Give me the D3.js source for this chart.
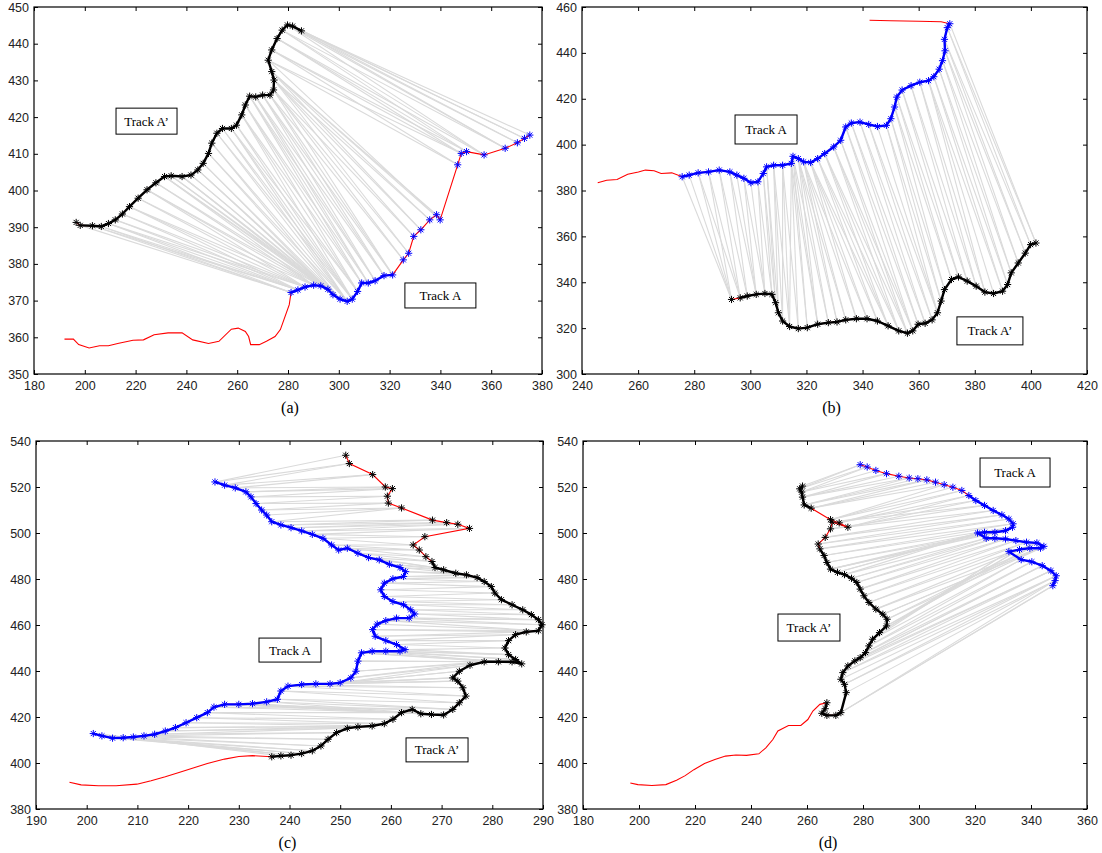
<!DOCTYPE html>
<html>
<head>
<meta charset="UTF-8">
<title>Track A / Track A' matching</title>
<style>
  body { margin: 0; background: #fff; }
  .tick text { font-family: "Liberation Sans", Arial, sans-serif; font-size: 12.5px; fill: #222; }
  .tick line { stroke: #000; }
  .boxlabel { font-family: "Liberation Serif", "Times New Roman", serif; font-size: 13px; fill: #000; }
  .caption { font-family: "Liberation Serif", "Times New Roman", serif; font-size: 16px; fill: #000; }
</style>
</head>
<body>
<svg></svg>
<script src="https://d3js.org/d3.v7.min.js"></script>
<script>

let width = 1102, height = 853;
let svg = d3.select("svg").attr("width", width).attr("height", height);

// ---- panel (a) ----
const aXTicks = [180, 200, 220, 240, 260, 280, 300, 320, 340, 360, 380];
const aYTicks = [350, 360, 370, 380, 390, 400, 410, 420, 430, 440, 450];
const aRed = [[192,359.5],[195.5,359.5],[197.6,358],[201.7,357.1],[205.8,357.7],[209.3,357.7],[213.4,358.4],[219,359.2],[223.1,359.3],[227.3,360.7],[232.8,361.2],[238.3,361.2],[242.5,359.3],[248.7,358.3],[252.8,358.9],[257.7,362.2],[260.4,362.5],[263.2,361.6],[264.5,360.2],[265.3,358],[268.7,358],[271.5,358.9],[274.9,360.2],[277,362.1],[278.4,364.8],[280.5,368.9]];
const aTrack = [[281.2,372.2],[283.9,372.9],[286.7,373.7],[290.1,374.2],[292.9,374],[295.7,373.1],[297.7,371.6],[300.5,370.4],[303.3,369.8],[305.3,370.4],[307.4,372.5],[309,374.8],[311.6,374.8],[314.3,375.4],[317.8,376.8],[321.2,377],[325.4,381.1],[327.5,382.9],[329.5,387.5],[332.3,389.3],[335.8,392],[338.5,393.4],[339.9,392],[346.8,407],[348.2,410.1],[350.3,410.6],[357.2,409.7],[365.5,411.5],[370.3,413],[373.1,414.2],[375.2,415.1]];
const aTrack2 = [[196.6,391.3],[198.2,390.5],[203,390.4],[206.5,390.2],[209.3,391],[212,392],[214.8,393.6],[217.6,395.6],[221,397.9],[224.5,400.2],[228,402.1],[231.4,403.8],[234,404],[238.3,403.8],[241.8,404.2],[244.5,405.6],[246.6,407.4],[248.7,410.1],[250,412.9],[252,415.6],[254.2,416.9],[257.7,416.9],[259.7,417.8],[261.8,420.6],[263.2,423.3],[264.9,425.7],[267.3,425.5],[270,426],[272.9,426],[274.3,427.4],[274.5,430.1],[273.6,432.4],[272.2,435.5],[273.6,438.3],[275.7,441.4],[277.7,443.7],[279.8,445.1],[281.8,444.8],[285.3,443.5]];
const aLinks = [[],[0],[0,1],[0,1],[0,1,2],[1,2],[1,2],[1,2,3],[2,3],[2,3,4],[3,4],[3,4,5],[4,5],[4,5,6],[5,6],[5,6,7],[6,7],[7,8],[7,8],[8,9],[8,9],[8,9,10],[9,10],[9,10,11],[10,11,12],[11,12,13],[12,13,14],[13,14,15],[14,15,16],[15,16,17,18],[17,18,19,20],[19,20,21,22],[22,23,24],[23,24,25],[24,25,26],[25,26,27],[26,27,28],[27,28,29],[29,30]];

// ---- panel (b) ----
const bXTicks = [240, 260, 280, 300, 320, 340, 360, 380, 400, 420];
const bYTicks = [300, 320, 340, 360, 380, 400, 420, 440, 460];
const bRed = [[245.6,383.4],[248.8,384.5],[252.5,384.8],[256.3,387.1],[260.1,388.1],[262.6,388.9],[265.7,388.6],[268.2,387.4],[272,387.7]];
const bRedTail = [[368,453.6],[360,453.8],[350,454],[342.5,454.2]];
const bTrack = [[275.7,386],[278.2,386.7],[281.4,387.7],[285.1,388.1],[288.9,388.9],[292.7,388.1],[295.2,386.7],[297.7,385.3],[300.2,383.4],[302.7,383.8],[304.6,387.4],[305.8,390.3],[308.3,391],[311.5,391],[314.6,391.8],[315.2,394.9],[317.1,393.9],[319,392.5],[321.5,392.2],[324,393.9],[326.5,396.1],[329.7,399],[332.2,401.9],[334,407.7],[336,409.4],[339.1,409.8],[342.2,408.8],[345.3,407.9],[348.5,408.4],[350.1,411.3],[351.4,416.4],[352.2,420.7],[354.1,423.8],[357.3,425.7],[360.4,427.2],[363.5,427.9],[365.4,429.6],[367.3,432.9],[368.5,436.6],[369.4,440.9],[369.2,445.9],[370.2,451],[371.1,452.7]];
const bTrack2 = [[293.3,332.5],[296.4,333.2],[298.9,334],[302.1,334.7],[305.2,335.1],[307.7,334.7],[309,331.1],[310,326.7],[311.5,323.1],[314,320.7],[317.1,319.8],[320.3,320.2],[324,321.7],[327.8,322.4],[330.9,322.7],[334,323.6],[337.8,324.1],[341.6,324.1],[345.3,323.1],[349.1,321],[352.9,318.8],[356,317.8],[357.9,318.8],[359.8,321.7],[362.3,322.1],[364.8,323.6],[366.7,326.7],[368,331.8],[369.2,336.8],[371.7,341.2],[374.2,342.3],[377.3,340.5],[380.5,338.3],[383.6,335.7],[386.7,335.1],[389.9,336.1],[391.7,339],[393,344.1],[395.5,348.4],[398,352.7],[399.9,356.4],[401.8,357.1]];
const bLinks = [[0,1,2,3],[2,3,4],[4,5],[5,6,7],[7,8,9],[9,10],[10,11],[11,12],[12,13],[12,13,14],[13,14],[14,15],[14,15,16],[15,16],[16,17],[16,17],[17,18],[17,18],[18,19],[18,19,20],[19,20,21],[20,21,22],[21,22,23],[23,24],[24,25],[25,26],[26,27,28],[28,29],[29,30],[30,31],[31,32],[32,33],[33,34],[34,35],[35],[35,36],[36,37],[37,38],[38,39],[39,40],[40,41],[41,42]];

// ---- panel (c) ----
const cXTicks = [190, 200, 210, 220, 230, 240, 250, 260, 270, 280, 290];
const cYTicks = [380, 400, 420, 440, 460, 480, 500, 520, 540];
const cRed = [[196.6,391.6],[198.9,390.5],[202.3,390.1],[205.8,390.1],[209.9,390.8],[212.7,392.3],[215.5,394],[218.2,395.9],[221,397.8],[223.8,399.8],[227.2,401.7],[230,402.8],[232.7,403.2]];
const cTrack = [[225.3,522.2],[227.2,520.8],[229.3,519.6],[231.4,517.9],[232.4,515.7],[233.4,512.8],[234.5,510],[235.5,507.8],[236.5,504.9],[238.3,503.5],[240.3,502.3],[242.4,500.9],[244.5,499.4],[246.6,497.7],[248.3,494.8],[249.7,492.6],[251.4,493.4],[253.5,491.2],[255.6,489.3],[257.7,488.3],[259.7,486.4],[261.8,485],[262.9,483.2],[262.5,481.1],[260.4,480.1],[258.7,478.2],[258,475.3],[258.7,472.4],[260.4,470.2],[262.5,468.8],[263.9,466.6],[264.7,464.8],[263.6,463],[261.1,463],[259,461.9],[257.3,460.4],[256.4,458],[256.9,455.1],[259,453.2],[261.1,451.5],[262.8,449.3],[261.8,448.6],[259,448.6],[256.3,448.6],[254.2,447.9],[253.5,444.3],[253.1,439.9],[252.1,437],[250,434.9],[248,434.4],[245.2,434.4],[242.4,434.1],[239.7,433.4],[238.3,431.3],[237.6,427.7],[235.5,426.6],[232.7,425.8],[230,425.5],[227.2,425.5],[225.1,424.3],[223.8,421.9],[221.7,419.7],[219.6,417.5],[217.5,415.4],[215.5,413.9],[213.4,412.5],[211.3,411.8],[209.2,411.3],[207.2,411],[205.1,410.8],[203,411.8],[201.3,412.8]];
const cTrack2 = [[251.1,533.8],[251.8,530.2],[256.4,525.4],[258.9,520],[260.3,519.3],[259.3,516],[259.5,513],[262.1,510.9],[268.2,505.6],[271,504.5],[273.2,503.8],[275.5,502],[266.7,498.4],[264.4,494.8],[265.6,492.6],[266.9,489.7],[268.1,487.6],[268.7,485],[270.4,484],[272.8,482.5],[274.9,481.8],[277,480.6],[278.4,478.9],[279.8,476.7],[280.5,473.9],[281.8,471],[283.9,468.8],[286,466.6],[287.7,464.5],[289.1,462.3],[289.8,460.1],[289.1,457.5],[286.7,457],[284.6,455.8],[283.2,453.2],[282.5,450],[283.2,447.1],[284.6,445],[285.8,443.1],[283.9,444],[281.2,444],[278.4,444],[275.6,442.5],[273.5,439.9],[272.2,437],[273.2,435.6],[274.2,432.7],[274.8,429.1],[273.5,426.2],[272.2,423.3],[270.4,420.9],[268,421.1],[265.9,421.4],[264.2,423.3],[262.1,421.9],[260.4,419],[258.7,417.1],[256.3,416.1],[253.5,415.7],[251.4,415.1],[249.3,413.2],[247.6,410.3],[246.2,407.4],[244.5,405.3],[242.4,404.1],[240.3,403.4],[238.3,403.1],[236.5,402.7]];
const cLinks = [[0],[0,1],[1,2],[2,3],[3,4],[4,5],[5,6],[6,7,8],[8,9],[9,10],[10,11],[11,12],[12,13],[13,14],[14,15,16],[16,17],[17,18],[18,19,20],[20,21],[21,22],[22,23],[23,24],[24,25],[25,26],[26,27],[27,28],[28,29],[29,30],[30,31],[31,32,33],[33,34],[34,35,36],[36,37],[37,38],[38,39],[39,40],[40,41,42],[42,43],[43,44],[44,45],[45,46],[46,47],[47,48],[48,49],[49,50],[50,51],[51,52],[52,53],[53,54],[54,55],[55,56],[56,57],[57,58],[58,59],[59,60],[60,61],[61,62],[62,63],[63,64],[64,65],[65,66],[66,67],[67,68],[68,69],[69,70],[70,71],[71],[]];

// ---- panel (d) ----
const dXTicks = [180, 200, 220, 240, 260, 280, 300, 320, 340, 360];
const dYTicks = [380, 400, 420, 440, 460, 480, 500, 520, 540];
const dRed = [[196.9,391.3],[199.6,390.6],[204.6,390.2],[209.6,390.6],[213.4,392.5],[216.5,394.5],[219.6,397.1],[223.4,399.8],[227.1,401.5],[230.9,403],[234.6,403.5],[238.4,403.3],[242.8,404],[245.3,406.6],[247.8,410.2],[249.6,413.9],[253.4,416.3],[257.8,416.3],[260.3,418.9],[262.1,422.6],[264.6,425.5]];
const dTrack = [[279,529.7],[281.5,528.7],[284.6,527.2],[288.4,525.8],[292.8,524.7],[296.5,523.9],[299.6,523.6],[302.8,523.1],[305.9,522.1],[309,521],[312.1,519.9],[315.3,518.5],[317.8,516.3],[320.3,514.1],[323.4,512],[326.5,509.8],[329.6,507.9],[332.1,506.1],[333.6,504],[333.4,502.5],[330.9,501],[327.1,500.3],[323.4,500.3],[320.9,500],[324,497.7],[327.1,497.7],[330.9,497.4],[334.6,496.7],[338.4,496],[342.1,495.7],[344.6,494.2],[343.4,493.4],[339.6,493.4],[335.9,492.8],[332.1,491.9],[336.5,488.4],[340.3,487.5],[344,485.8],[347.1,483.6],[349,481.4],[348.6,479.3],[347.8,477.1]];
const dTrack2 = [[258.4,520.4],[257.4,519.2],[258.1,517.8],[258.4,515.6],[259,512.2],[261.5,510.8],[268.4,505.8],[271.5,504.4],[274.6,502.5],[269,504.7],[268.4,501.8],[266.5,498.1],[264,495.2],[264.6,493.1],[266.1,490.2],[267.1,487.2],[268.4,484.3],[270.9,482.9],[273.4,481.9],[275.9,480.3],[277.8,478.5],[279,475.6],[280.3,472.7],[282.1,469.8],[284.6,466.9],[287.1,464.7],[288.6,462.5],[288.4,459.6],[285.9,456.7],[283.4,453.8],[282.1,450.9],[280.9,448],[279,445.8],[277.1,444.4],[274.6,442.2],[272.8,439.3],[272.1,436.4],[273.4,434.2],[274,430.6],[272.1,421.9],[270.3,420.7],[267.1,420.7],[265.3,421.6],[266.5,423.6],[267.1,426.2]];
const dLinks = [[0],[0,1],[1,2,3],[3,4,5],[5,6,7],[7,8,9],[9,10,11],[11,12],[12,13],[13,14],[14,15],[15,16],[16,17],[17,18],[18,19],[19,20],[20,21,22],[22,23],[23,24],[24,25],[25,26],[26,27],[27,28],[28,29],[29,30],[30,31],[31,32],[32,33],[33,34],[34,35],[35,36],[36,37],[37],[37,38],[38],[38,39],[39],[39,40],[40],[40,41],[41],[],[],[],[]];

const panels = [
  { caption: "(a)", left: 34, right: 542, top: 7, bottom: 374, xTicks: aXTicks, yTicks: aYTicks,
    red: [aRed.concat(aTrack), aTrack2], trackA: aTrack, trackB: aTrack2, links: aLinks,
    bandA: [[0, 16]], bandB: [[1, 39]], capDx: 2,
    boxes: [{ text: "Track A’", x: 224.3, y: 418.9, w: 61, h: 26 }, { text: "Track A", x: 340, y: 371.4, w: 71, h: 25 }] },
  { caption: "(b)", left: 582, right: 1087, top: 7, bottom: 374, xTicks: bXTicks, yTicks: bYTicks,
    red: [bRed.concat(bTrack, bRedTail), bTrack2], trackA: bTrack, trackB: bTrack2, links: bLinks,
    bandA: [[0, 43]], bandB: [[1, 42]], capDx: -3,
    boxes: [{ text: "Track A", x: 305.6, y: 406.6, w: 62, h: 29 }, { text: "Track A’", x: 385.4, y: 318.8, w: 66, h: 28 }] },
  { caption: "(c)", left: 36, right: 543, top: 441, bottom: 809, xTicks: cXTicks, yTicks: cYTicks,
    red: [cRed.concat(cTrack2.slice().reverse()), cTrack], trackA: cTrack, trackB: cTrack2, links: cLinks,
    bandA: [[0, 72]], bandB: [[16, 68]], capDx: -2,
    boxes: [{ text: "Track A", x: 240.1, y: 449.1, w: 62, h: 24 }, { text: "Track A’", x: 269.1, y: 405.7, w: 62, h: 24 }] },
  { caption: "(d)", left: 583, right: 1087, top: 441, bottom: 809, xTicks: dXTicks, yTicks: dYTicks,
    red: [dRed.concat(dTrack2.slice().reverse()), dTrack], trackA: dTrack, trackB: dTrack2, links: dLinks,
    bandA: [[12, 42]], bandB: [[0, 6], [13, 45]], capDx: -7,
    boxes: [{ text: "Track A", x: 334.3, y: 526.3, w: 70, h: 29 }, { text: "Track A’", x: 260.7, y: 458.9, w: 62, h: 27 }] }
];

// MATLAB style '*' marker
function star(r) {
  let k = r * 0.7071;
  return "M" + (-r) + ",0H" + r + "M0," + (-r) + "V" + r +
    "M" + (-k) + "," + (-k) + "L" + k + "," + k + "M" + (-k) + "," + k + "L" + k + "," + (-k);
}

panels.forEach(function (p) {
  let x = d3.scaleLinear().domain(d3.extent(p.xTicks)).range([p.left, p.right]);
  let y = d3.scaleLinear().domain(d3.extent(p.yTicks)).range([p.bottom, p.top]);
  let line = d3.line().x(d => x(d[0])).y(d => y(d[1]));
  let g = svg.append("g");

  // gray matching lines
  let pairs = [];
  p.links.forEach(function (list, j) {
    list.forEach(i => pairs.push([p.trackA[i], p.trackB[j]]));
  });
  g.append("g").selectAll("line").data(pairs).enter().append("line")
    .attr("x1", d => x(d[0][0])).attr("y1", d => y(d[0][1]))
    .attr("x2", d => x(d[1][0])).attr("y2", d => y(d[1][1]))
    .attr("stroke", "#dadada").attr("stroke-width", 1.1);

  // red trajectory
  p.red.forEach(function (pts) {
    g.append("path").attr("d", line(pts)).attr("fill", "none")
      .attr("stroke", "#ff0000").attr("stroke-width", 1.1);
  });

  // dense star bands
  function band(track, ranges, color) {
    ranges.forEach(function (r) {
      g.append("path").attr("d", line(track.slice(r[0], r[1]))).attr("fill", "none")
        .attr("stroke", color).attr("stroke-width", 2.4).attr("stroke-linejoin", "round");
    });
  }
  band(p.trackA, p.bandA, "#0000ff");
  band(p.trackB, p.bandB, "#000");

  // star markers
  g.append("g").selectAll("path").data(p.trackA).enter().append("path")
    .attr("d", star(3.6)).attr("transform", d => "translate(" + x(d[0]) + "," + y(d[1]) + ")")
    .attr("stroke", "#0000ff").attr("stroke-width", 1).attr("fill", "none");
  g.append("g").selectAll("path").data(p.trackB).enter().append("path")
    .attr("d", star(3.6)).attr("transform", d => "translate(" + x(d[0]) + "," + y(d[1]) + ")")
    .attr("stroke", "#000").attr("stroke-width", 1).attr("fill", "none");

  // text boxes
  p.boxes.forEach(function (b) {
    let cx = x(b.x), cy = y(b.y);
    g.append("rect").attr("x", cx - b.w / 2).attr("y", cy - b.h / 2)
      .attr("width", b.w).attr("height", b.h)
      .attr("fill", "#fff").attr("stroke", "#000").attr("stroke-width", 1);
    g.append("text").attr("class", "boxlabel").attr("x", cx).attr("y", cy)
      .attr("text-anchor", "middle").attr("dy", "0.35em").text(b.text);
  });

  // axes (ticks pointing inwards, like matlab)
  let fmt = d3.format("d");
  g.append("g").attr("transform", "translate(0," + p.bottom + ")")
    .call(d3.axisBottom(x).tickValues(p.xTicks).tickSize(-4).tickPadding(7).tickFormat(fmt))
    .call(a => a.select(".domain").remove());
  g.append("g").attr("transform", "translate(0," + p.top + ")")
    .call(d3.axisTop(x).tickValues(p.xTicks).tickSize(-4).tickFormat(""))
    .call(a => a.select(".domain").remove());
  g.append("g").attr("transform", "translate(" + p.left + ",0)")
    .call(d3.axisLeft(y).tickValues(p.yTicks).tickSize(-4).tickPadding(5).tickFormat(fmt))
    .call(a => a.select(".domain").remove());
  g.append("g").attr("transform", "translate(" + p.right + ",0)")
    .call(d3.axisRight(y).tickValues(p.yTicks).tickSize(-4).tickFormat(""))
    .call(a => a.select(".domain").remove());
  g.selectAll(".tick text").attr("font-family", null).attr("font-size", null);

  g.append("rect").attr("x", p.left).attr("y", p.top)
    .attr("width", p.right - p.left).attr("height", p.bottom - p.top)
    .attr("fill", "none").attr("stroke", "#000").attr("stroke-width", 1.2);

  g.append("text").attr("class", "caption")
    .attr("x", (p.left + p.right) / 2 + p.capDx).attr("y", p.bottom + 39)
    .attr("text-anchor", "middle").text(p.caption);
});

</script>
</body>
</html>
